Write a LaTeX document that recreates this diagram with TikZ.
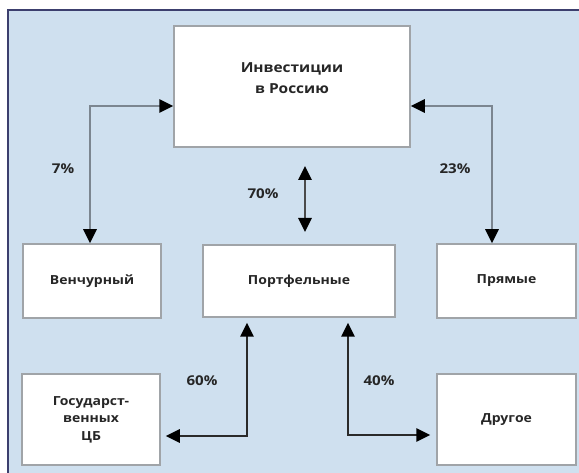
\documentclass[tikz,border=0pt]{standalone}
\usepackage{fontspec}
\setmainfont{Open Sans}[FakeStretch=1.12]
\usetikzlibrary{arrows.meta,calc}
\definecolor{bgblue}{HTML}{CFE0EF}
\definecolor{framec}{HTML}{3C3F6E}
\definecolor{boxline}{HTML}{A0A4A8}
\definecolor{lightarrow}{HTML}{7C8690}
\definecolor{darkarrow}{HTML}{2A2A2A}
\definecolor{txt}{HTML}{262626}
\begin{document}
\begin{tikzpicture}[x=1pt,y=-1pt,
  >={Triangle[length=14pt,width=13pt,color=black]},
  box/.style={draw=boxline,line width=1.5pt,fill=white,inner sep=0pt,text=txt,font=\bfseries\fontsize{12.5}{14}\selectfont,align=center},
  pct/.style={text=txt,font=\bfseries\fontsize{13.5}{14}\selectfont,inner sep=0pt},
  lightconn/.style={draw=lightarrow,line width=2.7pt,<->},
  darkconn/.style={draw=darkarrow,line width=2.7pt,<->}]
\useasboundingbox (0,0) rectangle (579,473);
\fill[bgblue] (8,10) rectangle (579,473);
\draw[framec,line width=1.5pt] (8,473) -- (8,10) -- (579,10);
% boxes
\node[box,minimum width=236pt,minimum height=121pt] (top) at (292,86.5) {};
\node[text=txt,font=\bfseries\fontsize{13.8}{21}\selectfont,align=center] (toptxt) at (292,78) {Инвестиции\\в Россию};
\node[box,minimum width=138pt,minimum height=74pt] (ven) at (92,281) {Венчурный};
\node[box,minimum width=192pt,minimum height=72pt] (port) at (299,281) {Портфельные};
\node[box,minimum width=139pt,minimum height=74pt] (pr) at (506.5,281) {Прямые};
\node[box,minimum width=138pt,minimum height=91pt,font=\bfseries\fontsize{12.5}{17.5}\selectfont] (gos) at (91,419.5) {Государст-\\венных\\ЦБ};
\node[box,minimum width=139pt,minimum height=91pt] (oth) at (506.5,419.5) {Другое};
% connectors
\draw[lightconn] ([xshift=-2pt]ven.north) |- ([yshift=-19.5pt]top.west);
\draw[lightconn] ([xshift=-14.5pt]pr.north) |- ([yshift=-19.5pt]top.east);
\coordinate (a70t) at (305,166);
\coordinate (a70b) at (305,232);
\draw[darkconn,draw=darkarrow!85] (a70t) -- (a70b);
\draw[darkconn,shorten <=5pt,shorten >=5pt] ([xshift=-52pt]port.south) |- ([yshift=-16.5pt]gos.east);
\draw[darkconn,shorten <=5pt,shorten >=6pt] ([xshift=49pt]port.south) |- ([yshift=-15.5pt]oth.west);
% labels
\node[pct] (p7) at (63,169) {7\%};
\node[pct] (p23) at (455,169) {23\%};
\node[pct] (p70) at (263,194) {70\%};
\node[pct] (p60) at (202,381) {60\%};
\node[pct] (p40) at (379,381) {40\%};
\end{tikzpicture}
\end{document}
